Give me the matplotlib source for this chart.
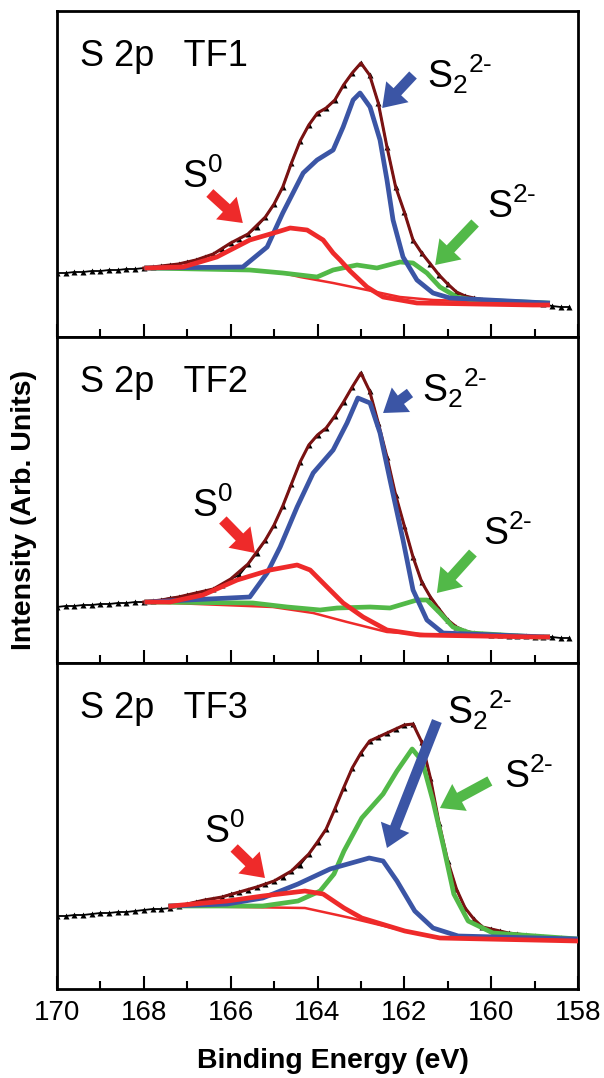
import matplotlib
matplotlib.use("Agg")
import matplotlib.pyplot as plt
from matplotlib.ticker import MultipleLocator

plt.rcParams['font.family'] = ['Liberation Sans', 'DejaVu Sans']
plt.rcParams['mathtext.fontset'] = 'custom'
plt.rcParams['mathtext.rm'] = 'Liberation Sans'
plt.rcParams['mathtext.it'] = 'Liberation Sans'
plt.rcParams['mathtext.bf'] = 'Liberation Sans:bold'
plt.rcParams['mathtext.default'] = 'regular'

# ---------------- data (binding energy in eV, intensity in arb. units) -------------
energy_data = [170.0, 169.8, 169.6, 169.4, 169.2, 169.0, 168.8, 168.6, 168.4, 168.2,
               168.0, 167.8, 167.6, 167.4, 167.2, 167.0, 166.8, 166.6, 166.4, 166.2,
               166.0, 165.8, 165.6, 165.4, 165.2, 165.0, 164.8, 164.6, 164.4, 164.2,
               164.0, 163.8, 163.6, 163.4, 163.2, 163.0, 162.8, 162.6, 162.4, 162.2,
               162.0, 161.8, 161.6, 161.4, 161.2, 161.0, 160.8, 160.6, 160.4, 160.2,
               160.0, 159.8, 159.6, 159.4, 159.2, 159.0, 158.8, 158.6, 158.4, 158.2]

data_tf1 = [64, 64, 65, 65, 66, 66, 67, 67, 68, 68,
            69, 70, 71, 72, 73, 75, 77, 80, 83, 88,
            94, 98, 103, 110, 120, 133, 150, 174, 196, 212,
            224, 229, 237, 252, 264, 274, 262, 234, 190, 150,
            125, 97, 84, 73, 62, 53, 45, 41, 39, 37,
            36, 35, 35, 34, 34, 34, 33, 31, 30, 30]
data_tf2 = [56, 57, 57, 58, 58, 59, 59, 60, 60, 61,
            61, 62, 63, 65, 66, 68, 70, 72, 74, 78,
            84, 88, 99, 110, 123, 138, 157, 179, 201, 218,
            228, 235, 247, 261, 276, 290, 272, 240, 206, 168,
            137, 106, 81, 66, 54, 43, 36, 32, 30, 29,
            28, 28, 27, 27, 27, 26, 26, 26, 25, 25]
data_tf3 = [73, 73, 74, 74, 75, 76, 76, 77, 77, 78,
            79, 80, 80, 81, 83, 85, 87, 89, 90, 92,
            95, 97, 99, 102, 105, 108, 112, 118, 124, 135,
            147, 160, 180, 201, 221, 236, 248, 252, 256, 260,
            264, 265, 247, 211, 166, 128, 100, 81, 70, 62,
            60, 58, 56, 55, 54, 53, 52, 51, 51, 50]

# fit envelopes
env12_E = [168.0, 167.6, 167.2, 166.8, 166.4, 166.0, 165.6, 165.2, 165.0, 164.8,
           164.6, 164.4, 164.2, 164.0, 163.8, 163.6, 163.4, 163.2, 163.0, 162.8,
           162.6, 162.4, 162.2, 162.0, 161.8, 161.6, 161.4, 161.2, 161.0, 160.8,
           160.6, 160.4, 160.0, 159.4, 158.7]
env_tf1 = [69, 71, 73, 77, 83, 94, 103, 120, 133, 150,
           174, 196, 212, 224, 229, 237, 252, 264, 274, 262,
           234, 190, 150, 125, 97, 84, 73, 62, 53, 45,
           41, 39, 36, 34, 34]
env_tf2 = [61, 63, 66, 70, 74, 84, 99, 123, 138, 157,
           179, 201, 218, 228, 235, 247, 261, 276, 290, 272,
           240, 206, 168, 137, 106, 81, 66, 54, 43, 36,
           32, 30, 28, 27, 26]
env3_E = [167.4, 167.0, 166.6, 166.2, 165.8, 165.4, 165.0, 164.6, 164.2, 164.0,
          163.8, 163.6, 163.4, 163.2, 163.0, 162.8, 162.6, 162.4, 162.2, 162.0,
          161.8, 161.6, 161.4, 161.2, 161.0, 160.8, 160.6, 160.4, 160.2, 160.0,
          159.6, 159.0, 158.5, 158.0]
env_tf3 = [81, 85, 89, 92, 97, 102, 108, 118, 135, 147,
           160, 180, 201, 221, 236, 248, 252, 256, 260, 264,
           265, 247, 211, 166, 128, 100, 81, 70, 62, 60,
           56, 53, 51, 50]

# --- TF1 components
bg1_E = [167.93, 165.56, 164.80, 164.40, 163.64, 162.86, 162.10, 161.34, 159.04, 158.70]
bg1 = [69, 67, 64, 60, 54, 47, 40, 37, 34, 34]
s22_1_E = [167.93, 165.72, 165.16, 164.80, 164.33, 164.01, 163.64, 163.41, 163.18, 163.02,
           162.79, 162.56, 162.40, 162.26, 162.03, 161.71, 161.34, 160.95, 158.70]
s22_1 = [69, 70, 90, 124, 164, 177, 187, 210, 237, 244,
         230, 197, 157, 117, 80, 57, 44, 39, 34]
s0_1_E = [167.93, 167.10, 166.32, 165.56, 164.93, 164.63, 164.24, 163.87, 163.64, 163.48,
          163.25, 162.86, 162.49, 161.71, 159.04, 158.70]
s0_1 = [69, 70, 80, 97, 105, 109, 107, 97, 84, 77,
        66, 50, 40, 34, 32, 32]
s2_1_E = [167.93, 165.56, 164.80, 164.01, 163.64, 163.09, 162.63, 162.10, 161.80, 161.48,
          161.18, 160.79, 160.42, 158.70]
s2_1 = [69, 67, 64, 60, 67, 72, 69, 75, 74, 64,
        50, 40, 37, 34]

# --- TF2 components
bg2_E = [167.93, 165.03, 164.10, 163.32, 162.40, 161.25, 158.95, 158.70]
bg2 = [61, 56, 50, 41, 31, 28, 26, 26]
s22_2_E = [167.93, 165.56, 165.16, 164.86, 164.47, 164.10, 163.64, 163.32, 163.07, 162.79,
           162.56, 162.33, 162.03, 161.80, 161.48, 161.11, 158.70]
s22_2 = [61, 66, 90, 116, 156, 190, 213, 240, 265, 260,
         230, 183, 123, 73, 43, 30, 26]
s0_2_E = [167.93, 167.40, 166.64, 165.85, 165.09, 164.47, 164.17, 163.78, 163.41, 162.95,
          162.40, 161.64, 158.95, 158.70]
s0_2 = [61, 61, 68, 83, 93, 98, 93, 76, 60, 46,
        33, 28, 26, 26]
s2_2_E = [167.93, 165.49, 164.70, 163.94, 163.55, 162.79, 162.33, 161.71, 161.48, 161.18,
          160.88, 160.49, 158.95, 158.70]
s2_2 = [61, 60, 56, 53, 55, 56, 55, 63, 63, 50,
        36, 30, 26, 26]

# --- TF3 components
bg3_E = [167.38, 164.29, 163.23, 161.99, 161.18, 158.0]
bg3 = [83, 81, 71, 58, 51, 48]
s2_3_E = [167.38, 165.26, 164.45, 163.94, 163.62, 163.39, 162.98, 162.49, 162.17, 161.82,
          161.59, 161.34, 161.09, 160.86, 160.53, 159.96, 158.0]
s2_3 = [83, 83, 88, 98, 115, 138, 171, 195, 218, 240,
        228, 188, 141, 95, 68, 56, 50]
s22_3_E = [167.38, 166.08, 165.26, 164.45, 163.71, 162.81, 162.49, 162.17, 161.76, 161.34,
           160.76, 158.0]
s22_3 = [83, 85, 91, 105, 120, 131, 128, 108, 78, 61,
         53, 50]
s0_3_E = [167.38, 166.08, 165.26, 164.29, 163.87, 163.39, 162.98, 161.99, 161.18, 158.0]
s0_3 = [83, 88, 93, 98, 95, 81, 71, 58, 51, 48]

panel_titles = ["S 2p   TF1", "S 2p   TF2", "S 2p   TF3"]
xticks = [170, 168, 166, 164, 162, 160, 158]
xlabel = "Binding Energy (eV)"
ylabel = "Intensity (Arb. Units)"

# ---------------- style ----------------
RED = '#ee2a2a'
BLUE = '#3b55a5'
GREEN = '#52b948'
ENV = '#7a1212'

W, H = 604, 1078
fig = plt.figure(figsize=(W / 100, H / 100), dpi=100)

panels = [
    dict(data=data_tf1, envE=env12_E, env=env_tf1, bgE=bg1_E, bg=bg1,
         comps=[(s2_1_E, s2_1, GREEN), (s22_1_E, s22_1, BLUE), (s0_1_E, s0_1, RED)],
         labels=[  # text, text pos (E, I), arrow tail, arrow tip, color
             ("S$^{0}$", (167.12, 149), (166.48, 144), (165.72, 114), RED),
             ("S$_{2}{}^{2\\text{-}}$", (161.48, 249), (161.80, 262), (162.51, 229), BLUE),
             ("S$^{2\\text{-}}$", (160.10, 119), (160.37, 114), (161.29, 72), GREEN)]),
    dict(data=data_tf2, envE=env12_E, env=env_tf2, bgE=bg2_E, bg=bg2,
         comps=[(s2_2_E, s2_2, GREEN), (s22_2_E, s22_2, BLUE), (s0_2_E, s0_2, RED)],
         labels=[
             ("S$^{0}$", (166.89, 146), (166.18, 143), (165.44, 110), RED),
             ("S$_{2}{}^{2\\text{-}}$", (161.59, 261), (161.87, 270), (162.49, 250), BLUE),
             ("S$^{2\\text{-}}$", (160.19, 118), (160.42, 110), (161.25, 70), GREEN)]),
    dict(data=data_tf3, envE=env3_E, env=env_tf3, bgE=bg3_E, bg=bg3,
         comps=[(s2_3_E, s2_3, GREEN), (s22_3_E, s22_3, BLUE), (s0_3_E, s0_3, RED)],
         labels=[
             ("S$^{0}$", (166.61, 146), (165.92, 141), (165.21, 111), RED),
             ("S$_{2}{}^{2\\text{-}}$", (161.02, 265), (161.25, 268), (162.40, 141), BLUE),
             ("S$^{2\\text{-}}$", (159.70, 201), (160.03, 208), (161.18, 181), GREEN)]),
]

left, right = 57, 578
tops = [11, 337, 663]
ph = 326
axes = []
for i, p in enumerate(panels):
    top = tops[i]
    ax = fig.add_axes([left / W, 1 - (top + ph) / H, (right - left) / W, ph / H])
    axes.append(ax)
    ax.plot(energy_data, p['data'], linestyle='-', lw=1.3, color='black', marker='^',
            ms=5, mec='none', mfc='black', zorder=3)
    ax.plot(p['envE'], p['env'], color=ENV, lw=2.2, zorder=4)
    ax.plot(p['bgE'], p['bg'], color=RED, lw=1.8, zorder=5)
    for (cE, cI, col) in p['comps']:
        ax.plot(cE, cI, color=col, lw=3.4, zorder=6, solid_joinstyle='round')
    ax.text(0.044, 0.83, panel_titles[i], transform=ax.transAxes, fontsize=26,
            ha='left', va='baseline')
    for (txt, tpos, tail, tip, col) in p['labels']:
        ax.text(tpos[0], tpos[1], txt, fontsize=27, ha='left', va='baseline', zorder=8)
        ax.annotate('', xy=tip, xytext=tail,
                    arrowprops=dict(arrowstyle='simple,head_width=2.2,head_length=1.6,tail_width=0.75',
                                    mutation_scale=10, color=col, lw=0,
                                    shrinkA=0, shrinkB=0), zorder=9)
    ax.set_xlim(170, 158)
    ax.set_ylim(0, ph)
    ax.set_yticks([])
    ax.set_xticks(xticks)
    ax.xaxis.set_minor_locator(MultipleLocator(1))
    ax.tick_params(axis='x', which='major', direction='in', length=9.5, width=1.5,
                   labelsize=20, pad=8)
    ax.tick_params(axis='x', which='minor', direction='in', length=6, width=1.5)
    for s in ax.spines.values():
        s.set_linewidth(2.0)
    if i < 2:
        ax.tick_params(axis='x', which='both', labelbottom=False)

fig.text(333 / W, 1 - 1068 / H, xlabel, fontsize=20.5, fontweight='bold',
         ha='center', va='baseline')
fig.text(24 / W, 1 - 510 / H, ylabel, fontsize=20.5, fontweight='bold',
         ha='center', va='center', rotation=90)

fig.savefig('out.png', dpi=100)
